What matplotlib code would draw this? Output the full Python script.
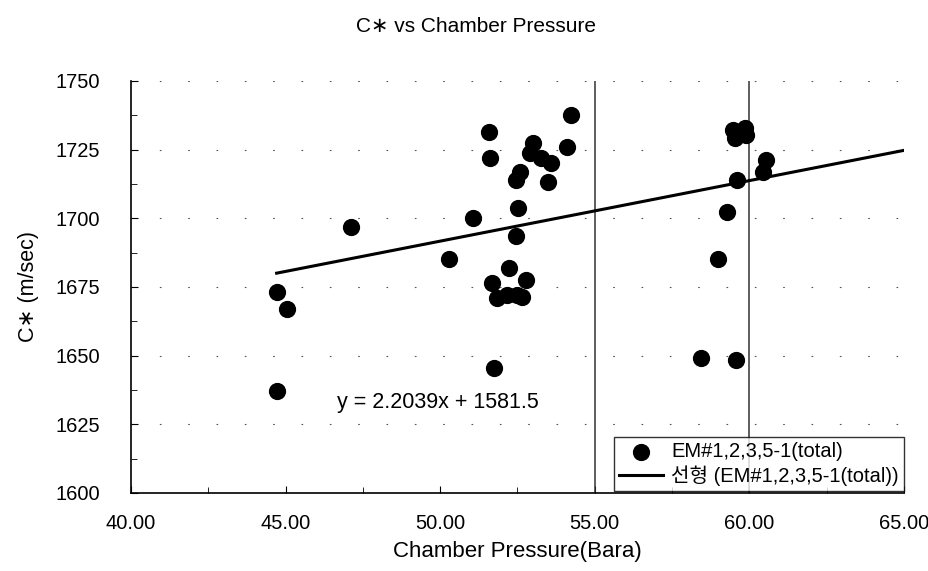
import numpy as np
import matplotlib
matplotlib.use("Agg")
import matplotlib.pyplot as plt
from matplotlib.ticker import MultipleLocator, FormatStrFormatter

plt.rcParams['font.family'] = ['Liberation Sans', 'Noto Sans CJK KR', 'DejaVu Sans']

# chamber pressure (Bara) and C* (m/sec) for EM#1,2,3,5-1 runs
pressure = [44.71, 45.06, 44.71, 47.11, 50.30, 51.06,
            51.57, 51.62, 51.67, 51.85, 51.74, 52.17, 52.22, 52.50, 52.66, 52.78,
            52.51, 52.46, 52.46, 52.57, 52.89, 53.00, 53.27, 53.59, 53.48,
            54.11, 54.24,
            58.43, 59.00, 59.29, 59.60, 59.47, 59.85, 59.53, 59.88,
            60.44, 60.55, 59.56]
cstar = [1673.2, 1667.1, 1637.0, 1696.8, 1685.2, 1700.2,
         1731.3, 1721.9, 1676.4, 1671.0, 1645.5, 1672.2, 1681.9, 1672.2, 1671.5, 1677.6,
         1703.7, 1693.7, 1714.0, 1717.0, 1723.7, 1727.6, 1721.9, 1720.3, 1713.4,
         1726.1, 1737.6,
         1649.0, 1685.3, 1702.3, 1714.0, 1732.2, 1732.9, 1729.3, 1730.4,
         1717.0, 1721.3, 1648.5]

# linear trend coefficients
slope = 2.2039
intercept = 1581.5
fit_x = [min(pressure), 65.0]

fig = plt.figure(figsize=(9.29, 5.71), dpi=100)
ax = fig.add_axes([131 / 929, 1 - 493 / 571, (904 - 131) / 929, (493 - 81) / 571])

ax.scatter(pressure, cstar, s=130, color='black', zorder=3,
           label='EM#1,2,3,5-1(total)')
fx = np.array(fit_x)
ax.plot(fx, slope * fx + intercept, color='black', lw=2.2, zorder=4,
        label='선형 (EM#1,2,3,5-1(total))')

# reference lines at 55 and 60 Bara
for xv in (55, 60):
    ax.axvline(xv, color='#333333', lw=1.1, zorder=2)

ax.set_xlim(40, 65)
ax.set_ylim(1600, 1750)
ax.xaxis.set_major_locator(MultipleLocator(5))
ax.xaxis.set_minor_locator(MultipleLocator(2.5))
ax.yaxis.set_major_locator(MultipleLocator(25))
ax.yaxis.set_minor_locator(MultipleLocator(12.5))
ax.xaxis.set_major_formatter(FormatStrFormatter('%.2f'))

ax.grid(axis='y', which='major', color='#555555', lw=0.8,
        linestyle=(0, (1.5, 24)))
ax.set_axisbelow(True)

for side in ('top', 'right'):
    ax.spines[side].set_visible(False)
for side in ('left', 'bottom'):
    ax.spines[side].set_linewidth(1.2)

ax.tick_params(which='both', direction='in', labelsize=14.5)
ax.tick_params(axis='y', which='major', length=5, pad=22)
ax.tick_params(axis='x', which='major', length=5, pad=15)
ax.tick_params(which='minor', length=4)

ax.set_xlabel('Chamber Pressure(Bara)', fontsize=16, labelpad=6)
ax.set_ylabel('C∗ (m/sec)', fontsize=15.5, labelpad=12)
fig.text(476 / 929, 1 - 27 / 571, 'C∗ vs Chamber Pressure', fontsize=15,
         ha='center', va='center')

ax.text(46.65, 1633, f'y = {slope}x + {intercept}', fontsize=15.5,
        ha='left', va='center')

leg = ax.legend(loc='lower right', bbox_to_anchor=(1.0, 0.005), fontsize=14.5,
                frameon=True, fancybox=False, edgecolor='black',
                borderaxespad=0, handlelength=2.2, handletextpad=0.4,
                labelspacing=0.2, borderpad=0.25)
leg.get_frame().set_linewidth(1.0)

fig.savefig('out.png', dpi=100)
